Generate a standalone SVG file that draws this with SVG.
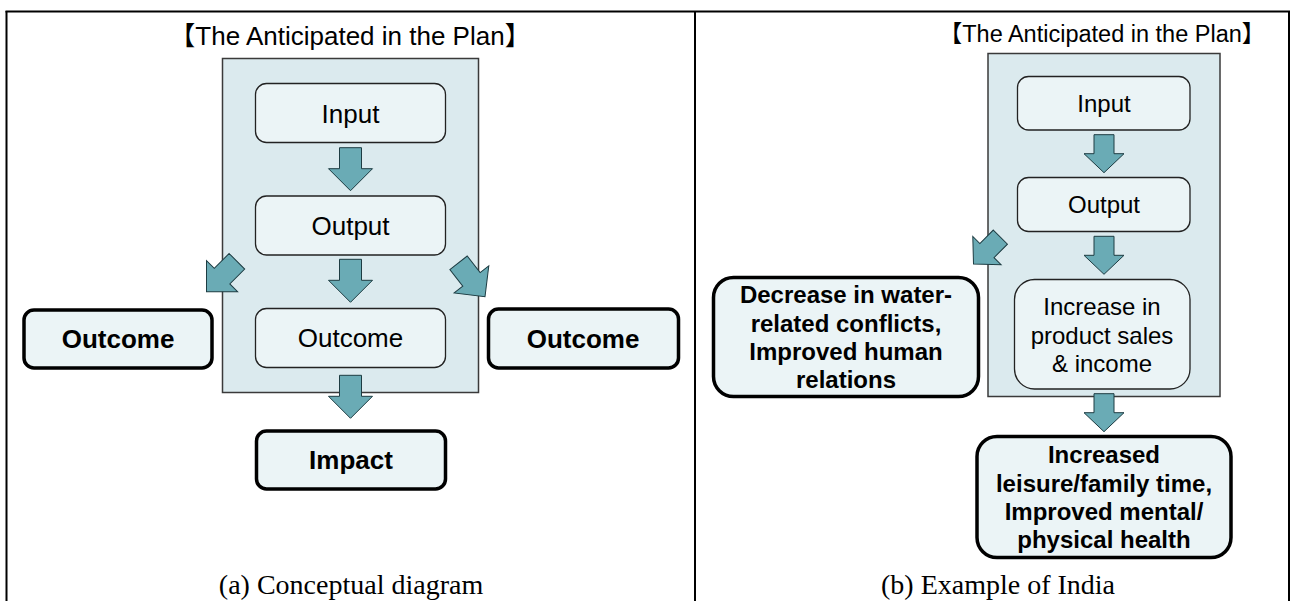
<svg xmlns="http://www.w3.org/2000/svg" width="1301" height="601" viewBox="0 0 1301 601">
<defs>
<style>
.frame{stroke:#000;stroke-width:2;fill:none}
.cont{fill:#dbeaee;stroke:#3a3a3a;stroke-width:1.5}
.box{fill:#ebf4f6;stroke:#222;stroke-width:1.3}
.tbox{fill:#ebf4f6;stroke:#000;stroke-width:3.5}
.arr{fill:#6aabb5;stroke:#1d3c42;stroke-width:1}
.t{font-family:"Liberation Sans",Arial,sans-serif;fill:#000;text-anchor:middle}
.b{font-weight:bold}
.ttl{font-family:"Liberation Sans",Arial,"Noto Sans CJK JP",sans-serif;text-anchor:middle;fill:#000}
.cap{font-family:"Liberation Serif","Times New Roman",serif;font-size:28px;text-anchor:middle;fill:#000}
</style>
<path id="bigArrow" d="M-11,-43 H11 V-22 H22 L0,0 L-22,-22 H-11 Z"/>
<path id="smallArrow" d="M-10,-38 H10 V-19 H20 L0,0 L-20,-19 H-10 Z"/>
</defs>
<rect width="1301" height="601" fill="#fff"/>
<g id="frame">
<line class="frame" x1="5.5" y1="11.5" x2="1290" y2="11.5"/>
<line class="frame" x1="6.5" y1="11" x2="6.5" y2="601"/>
<line class="frame" x1="695" y1="11" x2="695" y2="601"/>
<line class="frame" x1="1289" y1="11" x2="1289" y2="601"/>
</g>
<g id="panel-a">
<text class="ttl" x="350" y="45" font-size="26">【The Anticipated in the Plan】</text>
<rect id="plan-a" class="cont" x="222.5" y="58.5" width="256" height="334"/>
<g id="a-input"><rect class="box" x="255.5" y="83.5" width="190" height="59" rx="11"/><text class="t" x="350.5" y="122.5" font-size="26">Input</text></g>
<g id="a-output"><rect class="box" x="255.5" y="196" width="190" height="59" rx="11"/><text class="t" x="350.5" y="234.8" font-size="26">Output</text></g>
<g id="a-outcome"><rect class="box" x="255.5" y="308.5" width="190" height="59" rx="11"/><text class="t" x="350.5" y="347.3" font-size="26">Outcome</text></g>
<g id="a-outcome-left"><rect class="tbox" x="24" y="310" width="188" height="58" rx="10"/><text class="t b" x="118" y="347.5" font-size="26">Outcome</text></g>
<g id="a-outcome-right"><rect class="tbox" x="488.5" y="309" width="190" height="59" rx="10"/><text class="t b" x="583" y="348" font-size="26">Outcome</text></g>
<g id="a-impact"><rect class="tbox" x="256.5" y="431" width="189" height="58" rx="10"/><text class="t b" x="351" y="469" font-size="26">Impact</text></g>
<text class="cap" x="351" y="594">(a) Conceptual diagram</text>
</g>
<g id="panel-b">
<text class="ttl" x="1102" y="41.5" font-size="23.5">【The Anticipated in the Plan】</text>
<rect id="plan-b" class="cont" x="988" y="53.5" width="232" height="343"/>
<g id="b-input"><rect class="box" x="1017.5" y="76.5" width="172.5" height="53.5" rx="11"/><text class="t" x="1104" y="111.7" font-size="24">Input</text></g>
<g id="b-output"><rect class="box" x="1017.5" y="177.5" width="172.5" height="54" rx="11"/><text class="t" x="1104" y="213.3" font-size="24">Output</text></g>
<g id="b-income"><rect class="box" x="1014.5" y="279.5" width="175.5" height="109.5" rx="20"/>
<text class="t" x="1102" y="315" font-size="24">Increase in</text>
<text class="t" x="1102" y="343.5" font-size="24">product sales</text>
<text class="t" x="1102" y="372" font-size="24">&amp; income</text></g>
<g id="b-conflicts"><rect class="tbox" x="713.5" y="277.5" width="265" height="119" rx="20"/>
<text class="t b" x="846" y="303.3" font-size="24">Decrease in water-</text>
<text class="t b" x="846" y="331.7" font-size="24">related conflicts,</text>
<text class="t b" x="846" y="360" font-size="24">Improved human</text>
<text class="t b" x="846" y="388.3" font-size="24">relations</text></g>
<g id="b-leisure"><rect class="tbox" x="977" y="436.5" width="254" height="121" rx="20"/>
<text class="t b" x="1104" y="463.3" font-size="24">Increased</text>
<text class="t b" x="1104" y="491.7" font-size="24">leisure/family time,</text>
<text class="t b" x="1104" y="520" font-size="24">Improved mental/</text>
<text class="t b" x="1104" y="548" font-size="24">physical health</text></g>
<text class="cap" x="998" y="594">(b) Example of India</text>
</g>
<g id="connectors">
<use href="#bigArrow" class="arr" transform="translate(350.5,190.7)"/>
<use href="#bigArrow" class="arr" transform="translate(350.5,302.3)"/>
<use href="#bigArrow" class="arr" transform="translate(350.5,418.3)"/>
<use href="#bigArrow" class="arr" transform="translate(206.5,291.7) rotate(45)"/>
<use href="#bigArrow" class="arr" transform="translate(485,296.7) rotate(-38)"/>
<use href="#smallArrow" class="arr" transform="translate(1104,172.7)"/>
<use href="#smallArrow" class="arr" transform="translate(1104,274.3)"/>
<use href="#smallArrow" class="arr" transform="translate(1104,431.7)"/>
<use href="#smallArrow" class="arr" transform="translate(973.5,264) rotate(45)"/>
</g>
</svg>
